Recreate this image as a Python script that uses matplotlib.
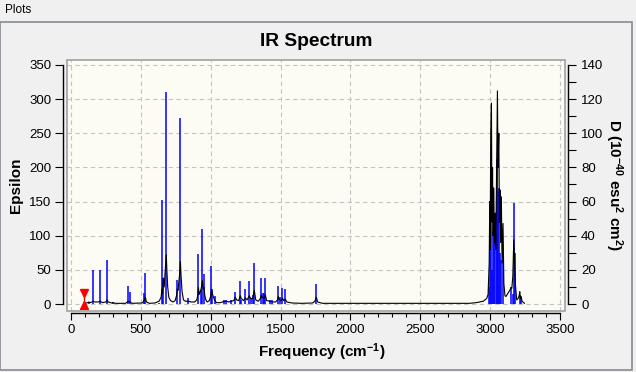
import matplotlib
matplotlib.use('Agg')
import matplotlib.pyplot as plt
from matplotlib.patches import Rectangle
from matplotlib.ticker import MultipleLocator

plt.rcParams['font.family'] = ['Liberation Sans', 'DejaVu Sans']
plt.rcParams['mathtext.fontset'] = 'custom'
plt.rcParams['mathtext.rm'] = 'Liberation Sans'
plt.rcParams['mathtext.bf'] = 'Liberation Sans:bold'
plt.rcParams['mathtext.default'] = 'bf'

# Stick spectrum: frequency (cm-1) and dipole strength D (1e-40 esu^2 cm^2)
stick_freq = [127, 160, 210, 260, 303, 410, 425, 525, 532, 627, 651, 661, 682,
              761, 783, 840, 912, 930, 940, 954, 1005, 1011, 1028, 1098, 1112,
              1148, 1176, 1212, 1219, 1248, 1276, 1286, 1300, 1312, 1362, 1372,
              1380, 1391, 1427, 1441, 1484, 1496, 1513, 1534, 1756,
              2993, 2999, 3004, 3012, 3019, 3027, 3036, 3047, 3052, 3057, 3062,
              3068, 3074, 3092, 3152, 3162, 3171, 3177, 3212, 3218]
stick_d = [1.2, 20, 20, 25.6, 1.2, 10.4, 7.2, 6.4, 18, 0.8, 61, 15, 124.4,
           14, 109, 3.6, 29, 8, 44, 17.6, 22.4, 8.8, 4.4, 2.4, 2.4,
           2.4, 6.8, 13.2, 2.4, 8.8, 13.2, 3.6, 5.2, 24, 15.2, 6.4,
           6.4, 15.2, 2.4, 2.4, 10.8, 4, 9.2, 8.8, 11.6,
           10, 33, 84, 20, 42, 40, 49, 80, 85, 66, 68,
           30, 26, 29, 10, 6, 59, 30, 5, 3]

# Broadened spectrum (Epsilon), vertices
curve_freq = [100, 120, 127, 135, 150, 160, 170, 195, 210, 225, 250, 258, 266,
              290, 303, 315, 390, 403, 410, 418, 425, 435, 510, 520, 525, 532,
              540, 560, 600, 630, 645, 651, 656, 661, 667, 673, 682, 686, 692,
              700, 712, 730, 745, 755, 761, 766, 772, 778, 783, 788, 795, 805,
              820, 840, 860, 885, 900, 907, 912, 918, 925, 931, 936, 940, 946,
              952, 958, 965, 975, 990, 1000, 1005, 1011, 1019, 1028, 1040, 1070,
              1098, 1112, 1130, 1148, 1165, 1176, 1185, 1200, 1212, 1219, 1235,
              1248, 1260, 1276, 1286, 1300, 1312, 1322, 1340, 1355, 1362, 1368,
              1375, 1385, 1391, 1400, 1427, 1441, 1465, 1478, 1484, 1490, 1496,
              1505, 1513, 1522, 1534, 1545, 1580, 1650, 1730, 1745, 1756, 1765,
              1800, 2850, 2900, 2950, 2975, 2985, 2993, 2997, 3000, 3004, 3009,
              3013, 3017, 3021, 3026, 3030, 3036, 3040, 3047, 3052, 3056, 3062,
              3066, 3071, 3075, 3080, 3085, 3092, 3098, 3106, 3113, 3125, 3140,
              3150, 3155, 3162, 3169, 3174, 3180, 3190, 3200, 3207, 3212, 3216,
              3222, 3228, 3245]
curve_eps = [1, 2, 3, 2, 3, 4, 3, 3, 4, 2, 3, 6, 3,
             1.5, 2, 1, 1, 3, 4, 3, 3, 1, 1.5, 4, 6, 10,
             3, 1, 1.5, 4, 10, 22, 15, 38, 25, 45, 72, 50, 25,
             10, 5, 3, 5, 12, 22, 20, 33, 45, 62, 40, 18, 6,
             4, 4, 3, 3, 6, 12, 24, 14, 18, 22, 28, 34, 22,
             24, 12, 6, 3, 5, 12, 22, 16, 10, 6, 2, 2,
             4, 4, 3, 4, 5, 10, 6, 5, 12, 8, 5,
             9, 6, 12, 8, 8, 20, 6, 4, 8, 13, 9,
             10, 9, 13, 5, 4, 3, 3, 6, 11, 7, 6,
             5, 9, 5, 7, 3, 1.5, 1, 1.5, 4, 10, 3,
             1, 1, 2, 4, 8, 14, 60, 150, 80, 250, 294,
             120, 200, 100, 170, 90, 133, 80, 220, 312, 200, 250,
             120, 167, 90, 157, 60, 118, 30, 12, 11, 15, 20,
             24, 23, 40, 94, 70, 30, 6, 8, 12, 18, 8,
             11, 4, 1]

marker_freq = 90
marker_eps = [-1.5, 16]

fig = plt.figure(figsize=(6.36, 3.72), dpi=100)
fig.patch.set_facecolor('#f0f0f0')

W, H = 636.0, 372.0

# window chrome
fig.text(5 / W, 1 - 10 / H, 'Plots', fontsize=8.5, va='center', ha='left')
fig.patches.append(Rectangle((0, 1 - 370 / H), 632 / W, 348 / H, transform=fig.transFigure,
                             fill=False, ec='#868b93', lw=1.2))

ax = fig.add_axes([66.7 / W, 1 - 310.5 / H, 497.8 / W, 251 / H])
ax2 = ax.twinx()
ax.set_zorder(ax2.get_zorder() + 1)
ax.patch.set_visible(False)
ax2.patch.set_visible(True)
ax2.patch.set_facecolor('#fcfcf4')

ax.set_xlim(-30.8, 3532)
ax.set_ylim(-9.5, 358.0)
ax2.set_ylim(-9.5 * 0.4, 358.0 * 0.4)

# blue sticks on the D axis, below the curve
ax2.vlines(stick_freq, 0, stick_d, colors='#0000ff', lw=1.1)

# black Epsilon curve
ax.plot(curve_freq, curve_eps, color='black', lw=0.8)

# red cursor marker
ax.plot([marker_freq, marker_freq], marker_eps, color='red', lw=1)
ax.plot([marker_freq], [marker_eps[1]], marker='v', color='red', ms=6, mec='red')
ax.plot([marker_freq], [marker_eps[0]], marker='^', color='red', ms=6, mec='red')

# grey frame of the plot area
ax.add_patch(Rectangle((0, 0), 1, 1, transform=ax.transAxes, fill=False,
                       ec='#a0a0a0', lw=1.2, clip_on=False, zorder=5))

# grid on the bottom layer
ax2.xaxis.set_visible(True)
ax2.tick_params(axis='x', which='both', bottom=False, top=False,
                labelbottom=False, labeltop=False)
ax2.grid(True, which='major', linestyle=(0, (4, 3)), color='#c4c4c4', lw=0.8)

for a in (ax, ax2):
    for s in a.spines.values():
        s.set_visible(False)

ax.spines['left'].set_visible(True)
ax.spines['left'].set_position(('outward', 2.4))
ax.spines['left'].set_bounds(0, 350)
ax.spines['bottom'].set_visible(True)
ax.spines['bottom'].set_position(('outward', 2.0))
ax.spines['bottom'].set_bounds(0, 3500)
ax2.spines['right'].set_visible(True)
ax2.spines['right'].set_position(('outward', 2.2))
ax2.spines['right'].set_bounds(0, 140)
for s in (ax.spines['left'], ax.spines['bottom'], ax2.spines['right']):
    s.set_linewidth(1.0)
    s.set_color('black')

ax.set_xticks(range(0, 3501, 500))
ax.xaxis.set_minor_locator(MultipleLocator(100))
ax.set_yticks(range(0, 351, 50))
ax2.set_yticks(range(0, 141, 20))
ax2.yaxis.set_minor_locator(MultipleLocator(10))

ax.tick_params(axis='x', which='major', length=5, width=0.8, pad=3, labelsize=9.5)
ax.tick_params(axis='x', which='minor', length=3, width=0.8)
ax.tick_params(axis='y', which='major', length=5.8, width=0.8, pad=3, labelsize=9.5)
ax2.tick_params(axis='y', which='both', length=5.8, width=0.8, pad=4, labelsize=9.5)

# titles and axis labels
fig.text(316 / W, 1 - 46.5 / H, 'IR Spectrum', fontsize=13.8, fontweight='bold',
         ha='center', va='baseline')
fig.text(15.8 / W, 1 - 185 / H, 'Epsilon', fontsize=11, fontweight='bold',
         rotation=90, ha='center', va='center')
fig.text(322 / W, 1 - 357 / H, r'Frequency (cm$^{-1}$)', fontsize=11,
         fontweight='bold', ha='center', va='baseline')
fig.text(614 / W, 1 - 185 / H, r'D (10$^{-40}$ esu$^{2}$ cm$^{2}$)',
         fontsize=11, fontweight='bold', rotation=270, ha='center', va='center')

fig.savefig('out.png', dpi=100, facecolor=fig.get_facecolor())
